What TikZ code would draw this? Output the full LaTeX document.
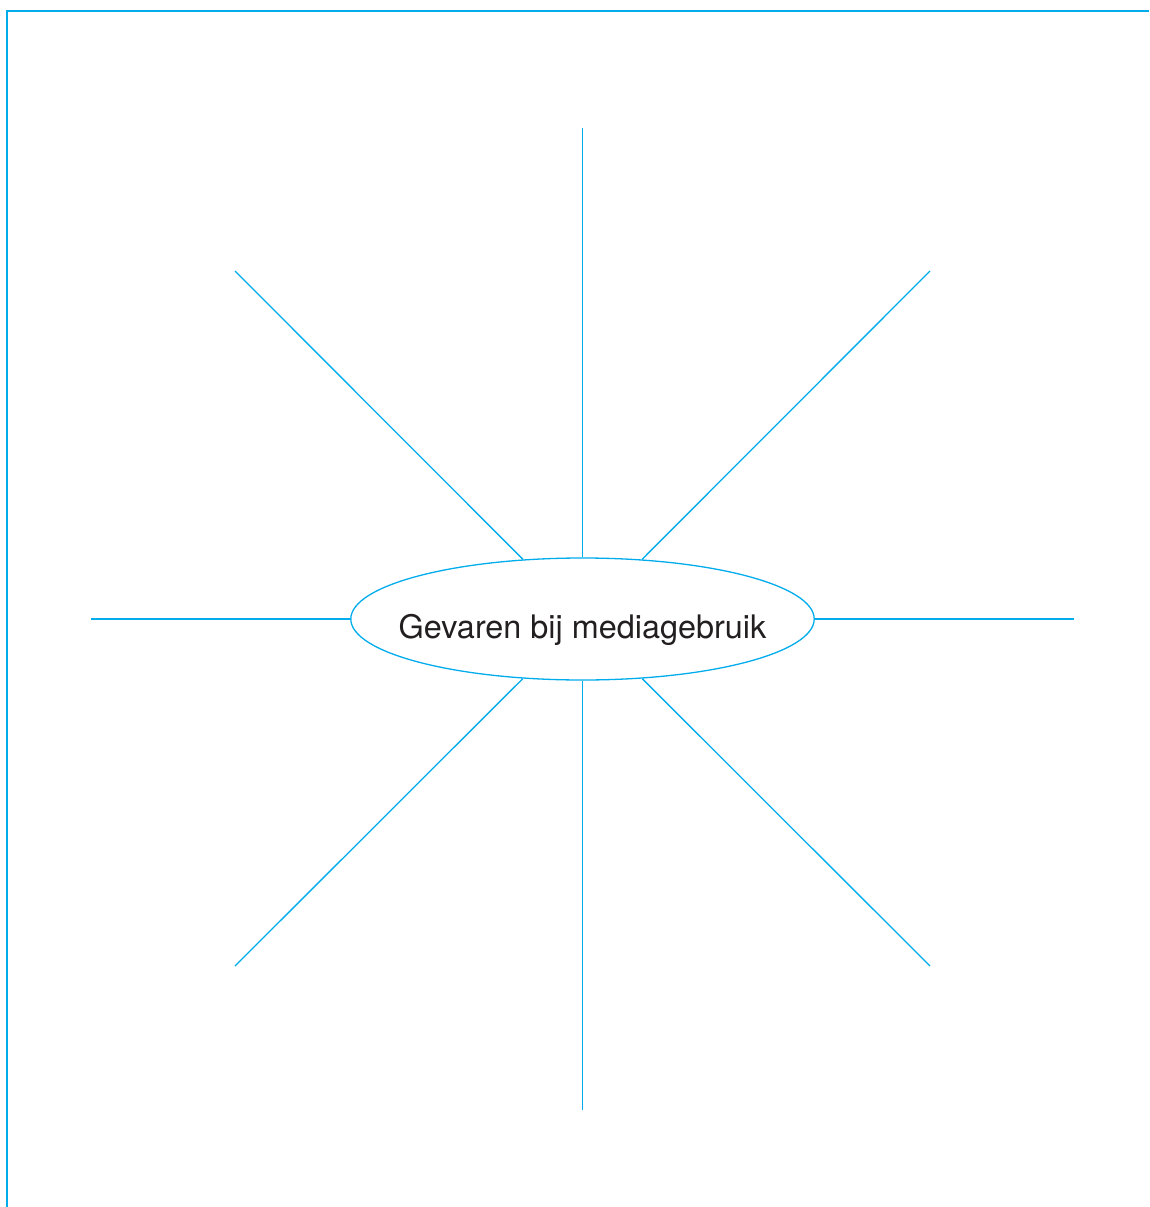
\documentclass[tikz,border=0pt]{standalone}
\usepackage{fontspec}
\setmainfont{TeX Gyre Heros}
\usetikzlibrary{shapes.geometric}

\definecolor{lijnblauw}{RGB}{0,172,236}
\definecolor{tekstgrijs}{RGB}{35,31,32}

\begin{document}
\begin{tikzpicture}[
  x=1pt, y=-1pt,
  lijn/.style={draw=lijnblauw, line width=1.3pt},
  kader/.style={draw=lijnblauw, line width=2pt},
  onderwerp/.style={ellipse, draw=lijnblauw, line width=1.3pt, inner xsep=-20pt, inner ysep=0pt,
    minimum width=463pt, minimum height=122pt, text height=50pt, text depth=11pt,
    text=tekstgrijs, font=\fontsize{32.4}{38}\selectfont}
]
\useasboundingbox (0,0) rectangle (1149,1207);

% kader
\draw[kader] (1149,11) -- (7,11) -- (7,1207);

\node[onderwerp] (midden) at (582.5,619) {Gevaren bij mediagebruik};

\coordinate (boven) at (582.5,128);
\coordinate (onder) at (582.5,1110);
\coordinate (links) at (91,619);
\coordinate (rechts) at (1074,619);
\coordinate (linksboven) at (235,271);
\coordinate (rechtsboven) at (930,271);
\coordinate (linksonder) at (235,966);
\coordinate (rechtsonder) at (930,966);

\draw[lijn] (midden) -- (boven);
\draw[lijn] (midden) -- (onder);
\draw[lijn] (midden) -- (links);
\draw[lijn] (midden) -- (rechts);
\draw[lijn] (midden) -- (linksboven);
\draw[lijn] (midden) -- (rechtsboven);
\draw[lijn] (midden) -- (linksonder);
\draw[lijn] (midden) -- (rechtsonder);

\end{tikzpicture}
\end{document}
